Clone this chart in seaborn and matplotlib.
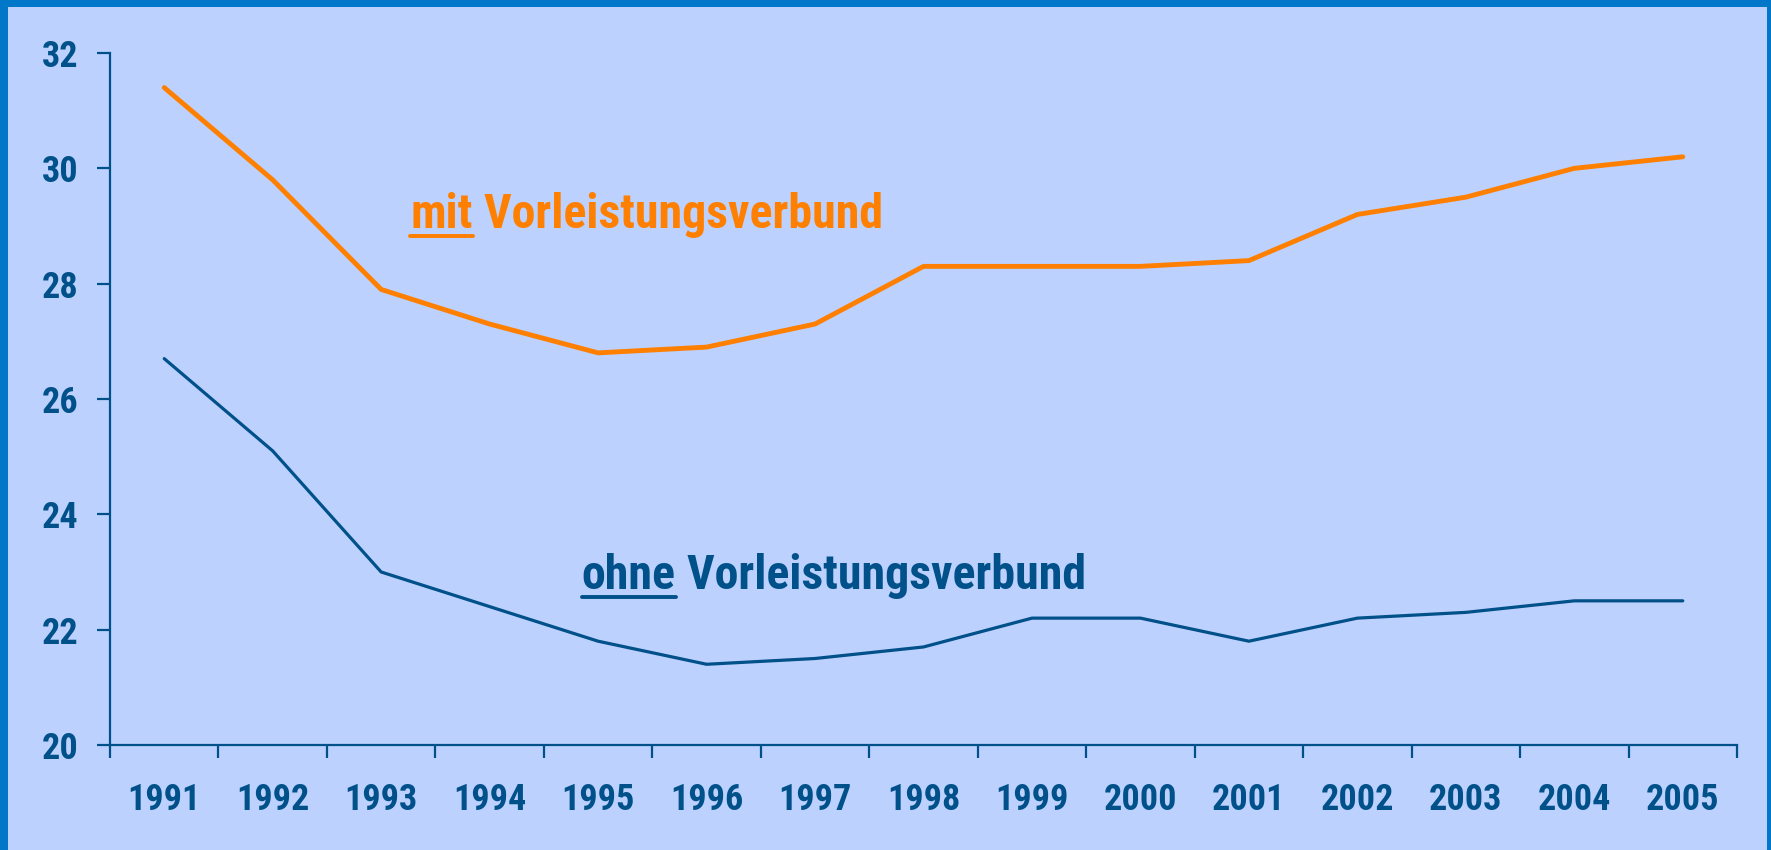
import numpy as np
import pandas as pd
import seaborn as sns
import matplotlib.pyplot as plt
from matplotlib.patches import Rectangle
from matplotlib.lines import Line2D
from matplotlib.ticker import FixedLocator

#--------------------------------------------------------------------------------------------------

years = ['1991', '1992', '1993', '1994', '1995', '1996', '1997', '1998',
         '1999', '2000', '2001', '2002', '2003', '2004', '2005']
mit_vl = [31.4, 29.8, 27.9, 27.3, 26.8, 26.9, 27.3, 28.3, 28.3, 28.3, 28.4, 29.2, 29.5, 30.0, 30.2]
ohne_vl = [26.7, 25.1, 23.0, 22.4, 21.8, 21.4, 21.5, 21.7, 22.2, 22.2, 21.8, 22.2, 22.3, 22.5, 22.5]
y_ticks = [20, 22, 24, 26, 28, 30, 32]

ORANGE = '#FF7F00'
NAVY = '#00508A'
BG = '#BDD1FE'
FRAME = '#0077C8'

sns.set_style('white')
plt.rcParams['font.family'] = ['Roboto Condensed', 'Liberation Sans Narrow', 'Liberation Sans', 'DejaVu Sans']
plt.rcParams['font.weight'] = 'bold'

df = pd.DataFrame({'pos': np.arange(len(years)), 'year': years, 'mit': mit_vl, 'ohne': ohne_vl})

#--------------------------------------------------------------------------------------------------

fig = plt.figure(figsize=(17.71, 8.5), dpi=100, facecolor=FRAME)
fig.patches.append(Rectangle((8 / 1771, 0), 1759 / 1771, 843 / 850, transform=fig.transFigure,
                             facecolor=BG, edgecolor='none', zorder=-5))
ax = fig.add_axes([110 / 1771, 105 / 850, 1627 / 1771, 692 / 850])
ax.set_facecolor('none')
ax.set_zorder(2)

sns.lineplot(x='pos', y='mit', data=df, color=ORANGE, linewidth=3.5, ax=ax)
sns.lineplot(x='pos', y='ohne', data=df, color=NAVY, linewidth=2.3, ax=ax)
for l in ax.lines:
    l.set_solid_capstyle('round')

ax.set_xlim(-0.5, len(years) - 0.5)
ax.set_ylim(20, 32)
ax.set_xlabel('')
ax.set_ylabel('')

# category axis: ticks between years, labels centred
ax.xaxis.set_major_locator(FixedLocator(np.arange(len(years) + 1) - 0.5))
ax.xaxis.set_minor_locator(FixedLocator(df['pos']))
ax.set_xticklabels([], minor=False)
ax.set_xticklabels(years, minor=True)
ax.tick_params(axis='x', which='major', bottom=True, direction='out', length=9.5, width=1.6, color=NAVY)
ax.tick_params(axis='x', which='minor', bottom=True, length=0, pad=27, labelsize=26, labelcolor=NAVY)
ax.set_yticks(y_ticks)
ax.tick_params(axis='y', left=True, direction='out', length=9.5, width=1.6, color=NAVY,
               pad=13, labelsize=26, labelcolor=NAVY)
for lab in ax.get_xticklabels(minor=True) + ax.get_yticklabels():
    lab.set_fontweight('bold')

for s in ['top', 'right']:
    ax.spines[s].set_visible(False)
for s in ['left', 'bottom']:
    ax.spines[s].set_color(NAVY)
    ax.spines[s].set_linewidth(1.6)

# inline labels with underlined first word
def label(x, y, first, rest, color):
    t1 = ax.text(x, y, first, color=color, fontsize=34.5, fontweight='bold', va='baseline')
    ax.annotate(' ' + rest, xy=(1, 0), xycoords=t1, color=color, fontsize=34.5,
                fontweight='bold', va='bottom')
    return t1

t_mit = label(2.27, 28.97, 'mit', 'Vorleistungsverbund', ORANGE)
t_ohne = label(3.85, 22.71, 'ohne', 'Vorleistungsverbund', NAVY)

fig.canvas.draw()
r = fig.canvas.get_renderer()
for t, c in [(t_mit, ORANGE), (t_ohne, NAVY)]:
    bb = t.get_window_extent(r)
    xb, yb = ax.transData.transform(t.get_position())
    yl = yb - 8
    fig.add_artist(Line2D([bb.x0, bb.x1], [yl, yl], transform=None, color=c,
                          linewidth=2.8, zorder=5))

fig.savefig('out.png', dpi=100, facecolor=fig.get_facecolor())
